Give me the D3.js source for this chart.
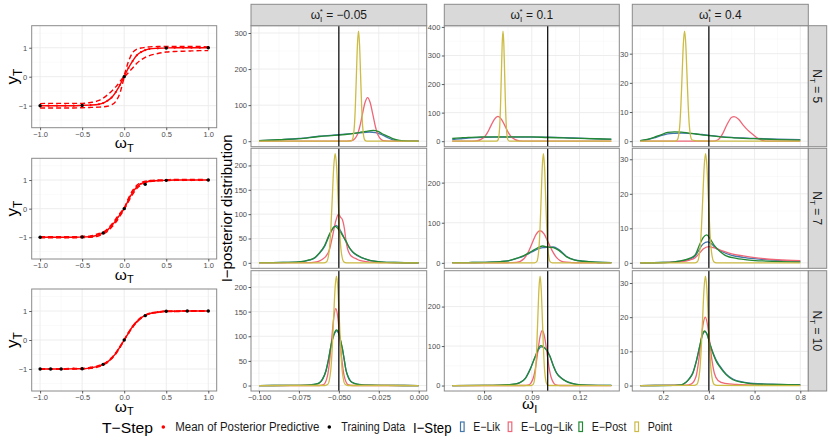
<!DOCTYPE html>
<html>
<head>
<meta charset="utf-8">
<script src="https://cdn.jsdelivr.net/npm/d3@7"></script>
<style>
  body { margin: 0; background: #fff; }
  svg { font-family: "Liberation Sans", Arial, sans-serif; }
</style>
</head>
<body>
<div id="chart"></div>
<script>
// ---- data ----
var nTrain = [5, 7, 10];
var omegaStar = [-0.05, 0.1, 0.4];
var seriesNames = ["E-Lik", "E-Log-Lik", "E-Post", "Point"];
var seriesColors = ["#4477AA", "#EE6677", "#228833", "#CCBB44"];

// omega_I range of each column and tick labels
var omegaRange = [[-0.1, 0], [0.04, 0.14], [0.1, 0.8]];
var omegaTicks = [[-0.1, -0.075, -0.05, -0.025, 0], [0.06, 0.09, 0.12], [0.2, 0.4, 0.6, 0.8]];
var densTicks = [
  [[0, 100, 200, 300], [0, 100, 200, 300, 400], [0, 10, 20, 30]],
  [[0, 50, 100, 150, 200], [0, 100, 200], [0, 10, 20, 30]],
  [[0, 50, 100, 150, 200], [0, 100, 200], [0, 10, 20, 30]]
];

// T-step panels: test inputs, posterior predictive mean and band
var testX = [-1, -0.9, -0.8, -0.7, -0.6, -0.5, -0.4, -0.3, -0.25, -0.2, -0.15, -0.1, -0.05, 0,
  0.05, 0.1, 0.15, 0.2, 0.25, 0.3, 0.4, 0.5, 0.6, 0.7, 0.8, 0.9, 1];
var predMean = [
  [-1, -1, -1, -1, -1, -0.99, -0.98, -0.95, -0.91, -0.83, -0.72, -0.53, -0.28, 0.01,
    0.3, 0.54, 0.74, 0.85, 0.92, 0.96, 0.98, 0.99, 1, 1, 1, 1, 1],
  [-1, -1, -1, -1, -1, -0.99, -0.98, -0.91, -0.85, -0.75, -0.6, -0.42, -0.21, 0,
    0.3, 0.57, 0.76, 0.87, 0.93, 0.96, 0.98, 0.99, 1, 1, 1, 1, 1],
  [-1, -1, -1, -1, -0.99, -0.99, -0.96, -0.9, -0.84, -0.76, -0.63, -0.46, -0.24, 0,
    0.24, 0.46, 0.63, 0.76, 0.85, 0.91, 0.96, 0.99, 0.99, 1, 1, 1, 1]
];
var predUpper = [
  [-0.93, -0.92, -0.92, -0.92, -0.92, -0.92, -0.89, -0.82, -0.74, -0.63, -0.5, -0.35, -0.17, 0.06,
    0.52, 0.83, 0.95, 0.99, 1.01, 1.03, 1.04, 1.04, 1.04, 1.04, 1.04, 1.04, 1.03],
  [-0.98, -0.98, -0.98, -0.98, -0.98, -0.97, -0.95, -0.87, -0.82, -0.71, -0.55, -0.36, -0.16, 0.03,
    0.36, 0.64, 0.82, 0.91, 0.96, 0.98, 1, 1.01, 1.02, 1.02, 1.02, 1.02, 1.01],
  [-0.99, -0.99, -0.99, -0.99, -0.98, -0.98, -0.94, -0.88, -0.82, -0.74, -0.61, -0.44, -0.22, 0.01,
    0.26, 0.48, 0.65, 0.78, 0.86, 0.92, 0.97, 1, 1, 1.01, 1.01, 1.01, 1.01]
];
var predLower = [
  [-1.08, -1.08, -1.08, -1.08, -1.08, -1.07, -1.06, -1.05, -1.04, -1.02, -0.97, -0.85, -0.56, -0.05,
    0.14, 0.3, 0.46, 0.58, 0.67, 0.73, 0.8, 0.85, 0.87, 0.88, 0.89, 0.9, 0.9],
  [-1.02, -1.02, -1.02, -1.02, -1.02, -1.01, -1, -0.95, -0.89, -0.8, -0.65, -0.48, -0.26, -0.03,
    0.24, 0.5, 0.7, 0.83, 0.9, 0.94, 0.97, 0.98, 0.99, 0.99, 0.99, 0.99, 0.99],
  [-1.01, -1.01, -1.01, -1.01, -1, -1, -0.98, -0.92, -0.86, -0.78, -0.65, -0.48, -0.26, -0.01,
    0.22, 0.44, 0.61, 0.74, 0.84, 0.9, 0.95, 0.98, 0.98, 0.99, 0.99, 0.99, 0.99]
];
var trainX = [
  [-1, -0.5, 0, 0.5, 1],
  [-1, -0.5, -0.25, 0, 0.25, 0.5, 1],
  [-1, -0.875, -0.75, -0.5, -0.25, 0, 0.25, 0.5, 0.75, 1]
];
var trainY = [
  [-1, -0.99, 0, 0.99, 1],
  [-1, -0.99, -0.85, 0, 0.85, 0.99, 1],
  [-1, -1, -1, -0.99, -0.84, 0, 0.84, 0.99, 1, 1]
];

// I-step posterior densities, [row N_T][column omega*] -> [omega_I, density]
var densElik = [
  [
    [[-0.1,1.5],[-0.0874,4],[-0.075,7.5],[-0.0623,14],[-0.05,18],[-0.0372,23],[-0.031,25.5],[-0.027,24],[-0.0226,17],[-0.019,9],[-0.0163,4],[-0.012,1],[-0.006,0.2],[0,0]],
    [[0.04,6],[0.045,8.5],[0.05,11],[0.055,12.5],[0.06,13.5],[0.07,14],[0.08,14.3],[0.09,14.5],[0.1,14],[0.11,12.5],[0.12,10.5],[0.13,8.5],[0.14,6.5]],
    [[0.1,0.2],[0.13,0.5],[0.16,1.1],[0.19,1.9],[0.22,2.5],[0.25,2.7],[0.28,2.8],[0.31,2.7],[0.34,2.5],[0.37,2.3],[0.4,2],[0.45,1.6],[0.5,1.3],[0.55,1.1],[0.6,0.95],[0.7,0.7],[0.8,0.5]]
  ],
  [
    [[-0.1,0.3],[-0.085,0.7],[-0.075,1.8],[-0.0686,5.5],[-0.065,10],[-0.0623,19],[-0.059,33],[-0.056,56],[-0.0535,72],[-0.0518,77],[-0.0505,74],[-0.048,60],[-0.0456,44],[-0.0435,31],[-0.0414,22],[-0.038,14],[-0.035,9.5],[-0.032,6],[-0.0289,4],[-0.024,2],[-0.015,0.7],[0,0.2]],
    [[0.04,0.5],[0.05,0.8],[0.06,1.3],[0.0702,3],[0.075,4.8],[0.0806,11],[0.085,17],[0.09,27],[0.094,35],[0.0969,38],[0.1,39],[0.1035,39.5],[0.107,33],[0.1119,16],[0.117,7.5],[0.1223,4],[0.13,1.5],[0.14,0.5]],
    [[0.1,0],[0.2,0.1],[0.25,0.3],[0.272,0.5],[0.3155,1.1],[0.34,2],[0.359,4],[0.375,5.5],[0.395,6.1],[0.41,5.6],[0.425,4.6],[0.45,3.5],[0.5,2.2],[0.55,1.6],[0.6,1.2],[0.7,0.7],[0.8,0.4]]
  ],
  [
    [[-0.1,0],[-0.08,0.3],[-0.07,1],[-0.065,2.7],[-0.0623,5.5],[-0.0603,13],[-0.0581,30],[-0.0565,53],[-0.055,79],[-0.053,103],[-0.0515,111],[-0.05,105],[-0.0488,89],[-0.0477,73],[-0.0466,52],[-0.0456,33],[-0.044,17],[-0.0425,9],[-0.04,4.5],[-0.0372,2.2],[-0.03,0.7],[-0.02,0.2],[0,0]],
    [[0.04,0],[0.06,0.3],[0.07,1],[0.075,2],[0.08,4.2],[0.0827,8],[0.086,19],[0.0889,41],[0.092,71],[0.0958,98],[0.098,95],[0.1014,74],[0.1035,51],[0.1056,32],[0.109,18],[0.1119,10.5],[0.115,6],[0.1181,3.2],[0.125,1.1],[0.14,0.2]],
    [[0.1,0],[0.25,0.05],[0.28,0.2],[0.301,1],[0.315,2.1],[0.33,3.8],[0.345,7.2],[0.36,11.5],[0.372,14.8],[0.383,15.8],[0.392,15],[0.405,12.2],[0.42,9.3],[0.433,7.3],[0.447,5.8],[0.475,3.4],[0.505,1.9],[0.55,1],[0.593,0.6],[0.7,0.35],[0.8,0.25]]
  ]
];
var densElogLik = [
  [
    [[-0.1,0],[-0.0452,0.05],[-0.0419,1.3],[-0.0386,16.3],[-0.03695,39.3],[-0.0353,73.4],[-0.03365,106.7],[-0.032,121],[-0.03035,106.7],[-0.0287,73.4],[-0.02705,39.3],[-0.0254,16.3],[-0.0221,1.3],[-0.0188,0.05],[0,0]],
    [[0.04,0],[0.0507,0.05],[0.0552,1],[0.0597,11.7],[0.06195,28.3],[0.0642,52.8],[0.06645,76.7],[0.0687,87],[0.07095,76.7],[0.0732,52.8],[0.07545,28.3],[0.0777,11.7],[0.0822,1],[0.0867,0.05],[0.14,0]],
    [[0.1,0],[0.42,0.02],[0.44,0.5],[0.46,2.5],[0.48,5.8],[0.5,8.2],[0.51,8.4],[0.53,7.5],[0.55,5.5],[0.57,3.8],[0.59,2.5],[0.61,1.2],[0.63,0.4],[0.65,0.05],[0.8,0]]
  ],
  [
    [[-0.1,0],[-0.07,0.3],[-0.065,1.5],[-0.062,4],[-0.06,8],[-0.058,14],[-0.056,26],[-0.054,54],[-0.052,85],[-0.0502,100],[-0.049,94],[-0.0477,88],[-0.0465,70],[-0.0456,47],[-0.0445,28],[-0.043,17],[-0.0414,12],[-0.039,8],[-0.037,5],[-0.033,2.5],[-0.028,1],[-0.02,0.3],[0,0]],
    [[0.04,0],[0.075,0.3],[0.0802,1],[0.0852,11],[0.0877,26],[0.0902,49],[0.0927,71],[0.0952,80],[0.0977,72],[0.1002,52],[0.1027,31],[0.1052,15],[0.1077,6],[0.11,2.5],[0.115,0.8],[0.12,0.2],[0.14,0]],
    [[0.1,0],[0.2,0.05],[0.25,0.2],[0.272,0.3],[0.3155,0.8],[0.34,1.5],[0.359,2.8],[0.375,4],[0.4,4.7],[0.42,4.4],[0.45,3.7],[0.5,2.6],[0.55,2],[0.6,1.5],[0.7,0.9],[0.8,0.6]]
  ],
  [
    [[-0.1,0],[-0.0621,0.1],[-0.05958,1.7],[-0.05702,21],[-0.05574,51],[-0.05446,95],[-0.05318,138],[-0.0519,156],[-0.05062,138],[-0.04934,95],[-0.04806,51],[-0.04678,21],[-0.04422,1.7],[-0.0417,0.1],[0,0]],
    [[0.04,0],[0.0852,0.1],[0.08805,1.5],[0.0909,19],[0.09233,45],[0.09375,85],[0.09518,123],[0.0966,139.5],[0.09803,123],[0.09945,85],[0.10088,45],[0.1023,19],[0.10515,1.5],[0.108,0.1],[0.14,0]],
    [[0.1,0],[0.3,0.1],[0.324,0.5],[0.344,2.7],[0.354,6.5],[0.364,12],[0.374,17.6],[0.384,20],[0.394,17.8],[0.404,12.5],[0.414,7.2],[0.424,3.6],[0.44,1.5],[0.47,0.6],[0.52,0.3],[0.6,0.15],[0.8,0.05]]
  ]
];
var densEpost = [
  [
    [[-0.1,1.5],[-0.0874,4],[-0.075,7],[-0.0623,13],[-0.05,17],[-0.0372,24],[-0.033,27.5],[-0.0284,30],[-0.0255,27],[-0.0226,20],[-0.019,13],[-0.0163,7],[-0.012,2],[-0.006,0.3],[0,0]],
    [[0.04,9.5],[0.045,11.5],[0.05,13.5],[0.055,14.5],[0.06,15],[0.07,15.3],[0.08,15.2],[0.09,14.8],[0.1,13],[0.11,11.5],[0.12,10],[0.13,8.5],[0.14,7]],
    [[0.1,0.2],[0.13,0.6],[0.16,1.3],[0.19,2.2],[0.22,3],[0.25,3.2],[0.28,3.1],[0.31,2.8],[0.34,2.5],[0.37,2.2],[0.4,1.9],[0.45,1.5],[0.5,1.2],[0.55,1],[0.6,0.85],[0.7,0.55],[0.8,0.35]]
  ],
  [
    [[-0.1,0.3],[-0.085,0.8],[-0.075,2],[-0.0686,6],[-0.065,11],[-0.0623,20],[-0.059,35],[-0.056,58],[-0.0535,72],[-0.0523,75],[-0.0505,70],[-0.048,58],[-0.0456,45],[-0.0435,32],[-0.0414,23],[-0.038,15],[-0.035,10],[-0.032,6.5],[-0.0289,4],[-0.024,2],[-0.015,0.7],[0,0.2]],
    [[0.04,0.5],[0.05,0.8],[0.06,1.3],[0.0702,3],[0.075,5],[0.0806,11.5],[0.085,18],[0.09,29],[0.094,38],[0.0969,42],[0.1,39],[0.1035,38],[0.107,31],[0.1119,15],[0.117,7],[0.1223,4],[0.13,1.5],[0.14,0.5]],
    [[0.1,0],[0.2,0.1],[0.25,0.3],[0.272,0.5],[0.3155,1.3],[0.34,2.3],[0.359,5.2],[0.375,7.3],[0.391,8.1],[0.405,7],[0.425,4.9],[0.45,3.2],[0.476,2],[0.52,1.3],[0.578,0.8],[0.65,0.5],[0.8,0.2]]
  ],
  [
    [[-0.1,0],[-0.08,0.3],[-0.07,1],[-0.065,2.5],[-0.0623,5],[-0.0603,12],[-0.0581,29],[-0.0565,52],[-0.055,80],[-0.053,105],[-0.0515,113],[-0.05,106],[-0.0488,90],[-0.0477,74],[-0.0466,52],[-0.0456,32],[-0.044,16],[-0.0425,8],[-0.04,4],[-0.0372,2],[-0.03,0.6],[-0.02,0.2],[0,0]],
    [[0.04,0],[0.06,0.3],[0.07,1],[0.075,2],[0.08,4],[0.0827,7.7],[0.086,18],[0.0889,40],[0.092,72],[0.0956,101],[0.098,96],[0.1014,74],[0.1035,50],[0.1056,31],[0.109,17],[0.1119,10],[0.115,5.5],[0.1181,3],[0.125,1],[0.14,0.2]],
    [[0.1,0],[0.25,0.05],[0.28,0.2],[0.301,1],[0.315,2],[0.33,3.6],[0.345,7],[0.36,11.5],[0.372,15],[0.381,16],[0.392,15],[0.405,12],[0.42,9],[0.433,7],[0.447,5.5],[0.475,3.2],[0.505,1.7],[0.55,0.9],[0.593,0.5],[0.7,0.3],[0.8,0.2]]
  ]
];
var densPoint = [
  [
    [[-0.1,0],[-0.0429,0.1],[-0.0416,3.4],[-0.0403,41],[-0.03965,99],[-0.039,185],[-0.03835,269],[-0.0377,305],[-0.03705,269],[-0.0364,185],[-0.03575,99],[-0.0351,41],[-0.0338,3.4],[-0.0325,0.1],[0,0]],
    [[0.04,0],[0.06774,0.1],[0.06878,4.2],[0.06982,52],[0.07034,125],[0.07086,234],[0.07138,340],[0.0719,385],[0.07242,340],[0.07294,234],[0.07346,125],[0.07398,52],[0.07502,4.2],[0.07606,0.1],[0.14,0]],
    [[0.1,0],[0.2512,0.02],[0.2618,0.4],[0.2724,5.1],[0.2777,12.3],[0.283,22.9],[0.2883,33.3],[0.2936,37.7],[0.2989,33.3],[0.3042,22.9],[0.3095,12.3],[0.3148,5.1],[0.3254,0.5],[0.34,0.2],[0.36,0.1],[0.45,0],[0.8,0]]
  ],
  [
    [[-0.1,0],[-0.0594,0.1],[-0.05764,2.5],[-0.05586,30],[-0.05497,73],[-0.05408,136],[-0.05319,198],[-0.0523,224],[-0.05141,198],[-0.05052,136],[-0.04963,73],[-0.04874,30],[-0.04696,2.5],[-0.0452,0.1],[0,0]],
    [[0.04,0],[0.0917,0.1],[0.0931,3],[0.0945,37],[0.0952,88],[0.0959,165],[0.0966,240],[0.0973,272],[0.098,240],[0.0987,165],[0.0994,88],[0.1001,37],[0.1015,3],[0.1029,0.1],[0.14,0]],
    [[0.1,0],[0.3376,0.02],[0.3496,0.35],[0.3616,4.3],[0.3676,10.3],[0.3736,19.2],[0.3796,27.9],[0.3856,31.6],[0.3916,27.9],[0.3976,19.2],[0.4036,10.3],[0.4096,4.3],[0.4216,0.35],[0.4336,0.02],[0.8,0]]
  ],
  [
    [[-0.1,0],[-0.0587,0.1],[-0.0569,2.4],[-0.0551,30],[-0.0542,72],[-0.0533,135],[-0.0524,196],[-0.0515,222],[-0.0506,196],[-0.0497,135],[-0.0488,72],[-0.0479,30],[-0.0461,2.4],[-0.0443,0.1],[0,0]],
    [[0.04,0],[0.0894,0.1],[0.09088,3],[0.09232,37],[0.09304,90],[0.09376,168],[0.09448,244],[0.0952,277],[0.09592,244],[0.09664,168],[0.09736,90],[0.09808,37],[0.09952,3],[0.101,0.1],[0.14,0]],
    [[0.1,0],[0.335,0.02],[0.3475,0.35],[0.36,4.3],[0.36625,10.4],[0.3725,19.4],[0.37875,28.2],[0.385,32],[0.39125,28.2],[0.3975,19.4],[0.40375,10.4],[0.41,4.3],[0.4225,0.35],[0.435,0.02],[0.8,0]]
  ]
];
var densAll = [densElik, densElogLik, densEpost, densPoint];

// ---- layout ----
var svgWidth = 830;
var svgHeight = 443;

var leftCol = [31.7, 216.7];
var leftRows = [[25.7, 127.7], [158.3, 259], [289, 391]];
var gridCols = [[251, 426.7], [444.3, 619.3], [632.3, 808.3]];
var gridRows = [[25.7, 146.7], [148.3, 268.3], [270.7, 391]];
var stripTop = [4.3, 25.7];
var stripRight = [808.3, 826.7];

var gridMajor = "#ebebeb";
var gridMinor = "#f5f5f5";
var borderCol = "#8a8a8a";
var tickText = "#4d4d4d";

var svg = d3.select("#chart")
  .append("svg")
  .attr("width", svgWidth)
  .attr("height", svgHeight);

function expand(r) {
  var d = (r[1] - r[0]) * 0.05;
  return [r[0] - d, r[1] + d];
}

function minorOf(major, domain) {
  var step = major[1] - major[0];
  var out = [];
  for (var v = major[0] - step / 2; v <= domain[1] + 1e-9; v += step) {
    if (v >= domain[0]) out.push(v);
  }
  return out;
}

// background, grid lines of a panel
function drawPanelGrid(g, x, y, w, h, xMajor, yMajor) {
  g.append("rect").attr("width", w).attr("height", h).attr("fill", "#fff");
  var xMinor = minorOf(xMajor, x.domain());
  var yMinor = minorOf(yMajor, y.domain());
  g.selectAll(".vmin").data(xMinor).enter().append("line")
    .attr("x1", d => x(d)).attr("x2", d => x(d)).attr("y1", 0).attr("y2", h)
    .attr("stroke", gridMinor).attr("stroke-width", 0.5);
  g.selectAll(".hmin").data(yMinor).enter().append("line")
    .attr("y1", d => y(d)).attr("y2", d => y(d)).attr("x1", 0).attr("x2", w)
    .attr("stroke", gridMinor).attr("stroke-width", 0.5);
  g.selectAll(".vmaj").data(xMajor).enter().append("line")
    .attr("x1", d => x(d)).attr("x2", d => x(d)).attr("y1", 0).attr("y2", h)
    .attr("stroke", gridMajor).attr("stroke-width", 0.9);
  g.selectAll(".hmaj").data(yMajor).enter().append("line")
    .attr("y1", d => y(d)).attr("y2", d => y(d)).attr("x1", 0).attr("x2", w)
    .attr("stroke", gridMajor).attr("stroke-width", 0.9);
}

function styleAxis(ax) {
  ax.select(".domain").remove();
  ax.selectAll(".tick line").attr("stroke", "#333").attr("stroke-width", 0.8);
  ax.selectAll(".tick text").attr("fill", tickText).attr("font-size", 7.5)
    .attr("font-family", "Liberation Sans, Arial, sans-serif");
}

function border(g, w, h) {
  g.append("rect").attr("width", w).attr("height", h)
    .attr("fill", "none").attr("stroke", borderCol).attr("stroke-width", 1);
}

// ---- T-step panels (left) ----
var tX = d3.scaleLinear().domain(expand([-1, 1])).range([0, leftCol[1] - leftCol[0]]);
leftRows.forEach(function(rw, i) {
  var w = leftCol[1] - leftCol[0];
  var h = rw[1] - rw[0];
  var tY = d3.scaleLinear().domain(expand([-1.6, 1.6])).range([h, 0]);
  var g = svg.append("g").attr("transform", "translate(" + leftCol[0] + "," + rw[0] + ")");

  drawPanelGrid(g, tX, tY, w, h, [-1, -0.5, 0, 0.5, 1], [-1, 0, 1]);

  var line = d3.line()
    .x(d => tX(d[0])).y(d => tY(d[1]))
    .curve(d3.curveMonotoneX);
  var band = [predUpper[i], predLower[i]];
  band.forEach(function(vals) {
    g.append("path")
      .datum(testX.map((xv, k) => [xv, vals[k]]))
      .attr("d", line)
      .attr("fill", "none").attr("stroke", "#ff0000")
      .attr("stroke-width", 1.4).attr("stroke-dasharray", "5,3");
  });
  var meanPts = testX.map((xv, k) => [xv, predMean[i][k]]);
  g.append("path")
    .datum(meanPts)
    .attr("d", line)
    .attr("fill", "none").attr("stroke", "#ff0000").attr("stroke-width", 1.4);
  g.selectAll(".mp").data(meanPts).enter().append("circle")
    .attr("cx", d => tX(d[0])).attr("cy", d => tY(d[1]))
    .attr("r", 1.1).attr("fill", "#ff0000");
  g.selectAll(".tp").data(trainX[i].map((xv, k) => [xv, trainY[i][k]])).enter().append("circle")
    .attr("cx", d => tX(d[0])).attr("cy", d => tY(d[1]))
    .attr("r", 1.7).attr("fill", "#000");

  border(g, w, h);

  var ay = g.append("g").call(d3.axisLeft(tY).tickValues([-1, 0, 1])
    .tickFormat(d3.format("d")).tickSize(2.5).tickPadding(2));
  styleAxis(ay);
  var ax = g.append("g").attr("transform", "translate(0," + h + ")")
    .call(d3.axisBottom(tX).tickValues([-1, -0.5, 0, 0.5, 1])
    .tickFormat(d3.format(".1f")).tickSize(2.5).tickPadding(1));
  styleAxis(ax);

  // axis titles
  var yt = svg.append("text")
    .attr("transform", "translate(18," + (rw[0] + h / 2) + ")rotate(-90)")
    .attr("text-anchor", "middle").attr("font-size", 17).attr("fill", "#000");
  yt.append("tspan").text("y");
  yt.append("tspan").attr("font-size", 12).attr("dy", 4).text("T");
  var xt = svg.append("text")
    .attr("x", leftCol[0] + w / 2).attr("y", rw[1] + 20.5)
    .attr("text-anchor", "middle").attr("font-size", 15.5).attr("fill", "#000");
  xt.append("tspan").text("ω");
  xt.append("tspan").attr("font-size", 11).attr("dy", 3.5).text("T");
});

// ---- I-step facet grid (right) ----
gridRows.forEach(function(rw, r) {
  gridCols.forEach(function(cl, c) {
    var w = cl[1] - cl[0];
    var h = rw[1] - rw[0];
    var x = d3.scaleLinear().domain(expand(omegaRange[c])).range([0, w]);
    var yMax = d3.max(densAll, s => d3.max(s[r][c], d => d[1]));
    var y = d3.scaleLinear().domain(expand([0, yMax])).range([h, 0]);

    var g = svg.append("g").attr("transform", "translate(" + cl[0] + "," + rw[0] + ")");
    drawPanelGrid(g, x, y, w, h, omegaTicks[c], densTicks[r][c]);

    var clipId = "clip" + r + c;
    g.append("clipPath").attr("id", clipId)
      .append("rect").attr("width", w).attr("height", h);
    var plot = g.append("g").attr("clip-path", "url(#" + clipId + ")");

    var line = d3.line()
      .x(d => x(d[0])).y(d => y(d[1]))
      .curve(d3.curveMonotoneX);
    densAll.forEach(function(s, k) {
      plot.append("path")
        .datum(s[r][c])
        .attr("d", line)
        .attr("fill", "none")
        .attr("stroke", seriesColors[k])
        .attr("stroke-width", 1.3);
    });

    // true omega_I
    plot.append("line")
      .attr("x1", x(omegaStar[c])).attr("x2", x(omegaStar[c]))
      .attr("y1", 0).attr("y2", h)
      .attr("stroke", "#000").attr("stroke-width", 1.2);

    border(g, w, h);

    var ay = g.append("g").call(d3.axisLeft(y).tickValues(densTicks[r][c])
      .tickFormat(d3.format("d")).tickSize(2.5).tickPadding(1.5));
    styleAxis(ay);

    if (r === gridRows.length - 1) {
      var fmt = [d3.format(".3f"), d3.format(".2f"), d3.format(".1f")][c];
      var ax = g.append("g").attr("transform", "translate(0," + h + ")")
        .call(d3.axisBottom(x).tickValues(omegaTicks[c])
        .tickFormat(fmt).tickSize(2.5).tickPadding(1));
      styleAxis(ax);
    }

    // top strip
    if (r === 0) {
      svg.append("rect")
        .attr("x", cl[0]).attr("y", stripTop[0])
        .attr("width", w).attr("height", stripTop[1] - stripTop[0])
        .attr("fill", "#d9d9d9").attr("stroke", borderCol).attr("stroke-width", 1);
      var st = svg.append("text")
        .attr("x", cl[0] + w / 2).attr("y", stripTop[0] + 15)
        .attr("text-anchor", "middle").attr("font-size", 12).attr("fill", "#1a1a1a");
      st.append("tspan").text("ω");
      st.append("tspan").attr("font-size", 8).attr("dy", 3).text("I");
      st.append("tspan").attr("font-size", 8).attr("dx", -2.5).attr("dy", -8).text("*");
      st.append("tspan").attr("dy", 5).text("  =  " + d3.format("")(omegaStar[c]));
    }

    // right strip
    if (c === gridCols.length - 1) {
      svg.append("rect")
        .attr("x", stripRight[0]).attr("y", rw[0])
        .attr("width", stripRight[1] - stripRight[0]).attr("height", h)
        .attr("fill", "#d9d9d9").attr("stroke", borderCol).attr("stroke-width", 1);
      var sr = svg.append("text")
        .attr("transform", "translate(" + (stripRight[0] + 5) + "," + (rw[0] + h / 2) + ")rotate(90)")
        .attr("text-anchor", "middle").attr("font-size", 12).attr("fill", "#1a1a1a");
      sr.append("tspan").text("N");
      sr.append("tspan").attr("font-size", 8).attr("dy", 3).text("T");
      sr.append("tspan").attr("dy", -3).text(" = " + nTrain[r]);
    }
  });
});

// facet axis titles
svg.append("text")
  .attr("transform", "translate(232," + ((gridRows[0][0] + gridRows[2][1]) / 2) + ")rotate(-90)")
  .attr("text-anchor", "middle").attr("font-size", 15).attr("fill", "#000")
  .text("I\u2212posterior distribution");
var wt = svg.append("text")
  .attr("x", (gridCols[0][0] + gridCols[2][1]) / 2).attr("y", 409)
  .attr("text-anchor", "middle").attr("font-size", 15.5).attr("fill", "#000");
wt.append("tspan").text("ω");
wt.append("tspan").attr("font-size", 11).attr("dy", 3.5).text("I");

// ---- legend ----
var legY = 431;
svg.append("text").attr("x", 102).attr("y", legY + 2)
  .attr("font-size", 15).attr("fill", "#000")
  .attr("textLength", 51).attr("lengthAdjust", "spacingAndGlyphs")
  .text("T\u2212Step");
var tKeys = [
  { x: 163.3, fill: "#ff0000", label: "Mean of Posterior Predictive", len: 144 },
  { x: 329.3, fill: "#000", label: "Training Data", len: 64 }
];
tKeys.forEach(function(k) {
  svg.append("circle").attr("cx", k.x).attr("cy", legY - 4).attr("r", 1.8).attr("fill", k.fill);
  svg.append("text").attr("x", k.x + 12).attr("y", legY)
    .attr("font-size", 12).attr("fill", "#1a1a1a")
    .attr("textLength", k.len).attr("lengthAdjust", "spacingAndGlyphs")
    .text(k.label);
});
svg.append("text").attr("x", 413).attr("y", legY + 2)
  .attr("font-size", 15).attr("fill", "#000")
  .attr("textLength", 38.5).attr("lengthAdjust", "spacingAndGlyphs")
  .text("I\u2212Step");
var iKeyX = [462.3, 510, 580.7, 636.7];
var iKeyLen = [26.7, 51.7, 34.7, 24.3];
seriesNames.forEach(function(name, k) {
  svg.append("rect")
    .attr("x", iKeyX[k] - 1.8).attr("y", legY - 9)
    .attr("width", 3.6).attr("height", 9.5)
    .attr("fill", "none").attr("stroke", seriesColors[k]).attr("stroke-width", 1.2);
  svg.append("text").attr("x", iKeyX[k] + 11).attr("y", legY)
    .attr("font-size", 12).attr("fill", "#1a1a1a")
    .attr("textLength", iKeyLen[k]).attr("lengthAdjust", "spacingAndGlyphs")
    .text(name.replace(/-/g, "\u2212"));
});
</script>
</body>
</html>
